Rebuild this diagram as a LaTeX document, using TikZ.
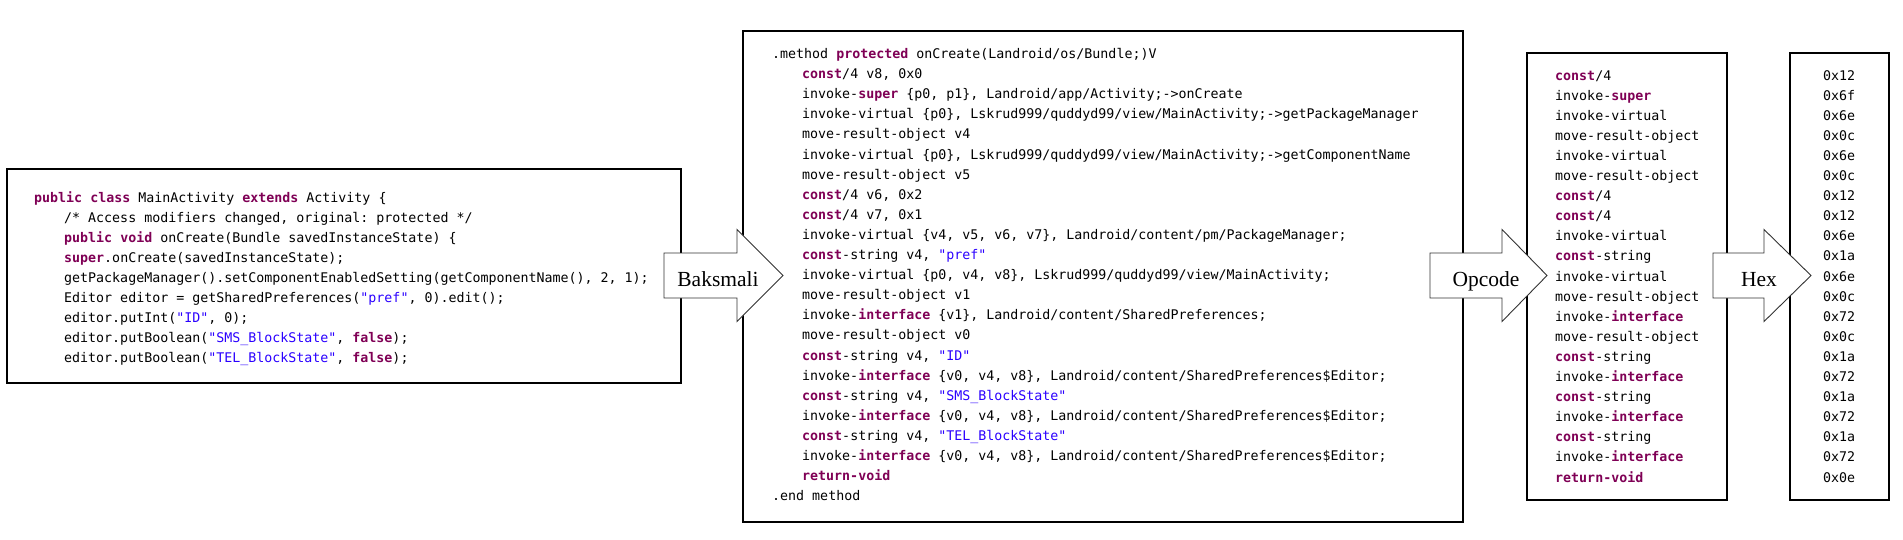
\documentclass[tikz,border=0pt]{standalone}
\usepackage{fontspec}
\setmainfont{Liberation Serif}
\setmonofont{DejaVu Sans Mono}
\definecolor{kwcolor}{HTML}{7F0055}
\definecolor{strcolor}{HTML}{2A00FF}
\newcommand{\kwd}[1]{\textcolor{kwcolor}{\textbf{#1}}}
\newcommand{\strlit}[1]{\textcolor{strcolor}{#1}}

\tikzstyle{codebox}=[draw,line width=1.2pt,rectangle,inner sep=0pt]
\tikzstyle{codeline}=[anchor=base west,inner sep=0pt,font=\fontsize{13.3}{20}\ttfamily]
\tikzstyle{blockarrow}=[draw=black!80,line width=0.9pt,fill=white,line join=miter]
\tikzstyle{steplabel}=[anchor=base,inner sep=0pt,font=\fontsize{21.5}{26}\selectfont]

\begin{document}
\begin{tikzpicture}[x=1pt,y=-1pt]
		\useasboundingbox (0,0) rectangle (1903,539);
		% the four boxes
		\node[codebox,minimum width=674pt,minimum height=214pt] (java) at (344,276) {};
		\node[codebox,minimum width=720pt,minimum height=491pt] (smali) at (1103,276.5) {};
		\node[codebox,minimum width=200pt,minimum height=447pt] (opcode) at (1627,276.5) {};
		\node[codebox,minimum width=99pt,minimum height=447pt] (hex) at (1839.5,276.5) {};
		% block arrows between the boxes
		\foreach \nm/\txt/\xa/\xb/\xc/\xt in {bak/Baksmali/664/737/783/718, opc/Opcode/1430/1502/1547/1486, hx/Hex/1713/1764/1811/1759}
		{
			\draw[blockarrow] (\xa,253) -- (\xb,253) -- (\xb,229.5) -- (\xc,275.5) -- (\xb,321.5) -- (\xb,298) -- (\xa,298) -- cycle;
			\node[steplabel] (\nm) at (\xt,286) {\txt};
		}
		% java source
		\node[codeline] (java-0) at (34,202) {\kwd{public} \kwd{class} MainActivity \kwd{extends} Activity \{};
		\foreach \t [count=\i] in {
			{/* Access modifiers changed, original: protected */},
			{\kwd{public} \kwd{void} onCreate(Bundle savedInstanceState) \{},
			{\kwd{super}.onCreate(savedInstanceState);},
			{getPackageManager().setComponentEnabledSetting(getComponentName(), 2, 1);},
			{Editor editor = getSharedPreferences(\strlit{"pref"}, 0).edit();},
			{editor.putInt(\strlit{"ID"}, 0);},
			{editor.putBoolean(\strlit{"SMS\_BlockState"}, \kwd{false});},
			{editor.putBoolean(\strlit{"TEL\_BlockState"}, \kwd{false});}}
			\node[codeline] (java-\i) at (64,{202+20*\i}) {\t};
		% smali code
		\node[codeline] (smali-0) at (772,58.5) {.method \kwd{protected} onCreate(Landroid/os/Bundle;)V};
		\foreach \t [count=\i] in {
			{\kwd{const}/4 v8, 0x0},
			{invoke-\kwd{super} \{p0, p1\}, Landroid/app/Activity;->onCreate},
			{invoke-virtual \{p0\}, Lskrud999/quddyd99/view/MainActivity;->getPackageManager},
			{move-result-object v4},
			{invoke-virtual \{p0\}, Lskrud999/quddyd99/view/MainActivity;->getComponentName},
			{move-result-object v5},
			{\kwd{const}/4 v6, 0x2},
			{\kwd{const}/4 v7, 0x1},
			{invoke-virtual \{v4, v5, v6, v7\}, Landroid/content/pm/PackageManager;},
			{\kwd{const}-string v4, \strlit{"pref"}},
			{invoke-virtual \{p0, v4, v8\}, Lskrud999/quddyd99/view/MainActivity;},
			{move-result-object v1},
			{invoke-\kwd{interface} \{v1\}, Landroid/content/SharedPreferences;},
			{move-result-object v0},
			{\kwd{const}-string v4, \strlit{"ID"}},
			{invoke-\kwd{interface} \{v0, v4, v8\}, Landroid/content/SharedPreferences\$Editor;},
			{\kwd{const}-string v4, \strlit{"SMS\_BlockState"}},
			{invoke-\kwd{interface} \{v0, v4, v8\}, Landroid/content/SharedPreferences\$Editor;},
			{\kwd{const}-string v4, \strlit{"TEL\_BlockState"}},
			{invoke-\kwd{interface} \{v0, v4, v8\}, Landroid/content/SharedPreferences\$Editor;},
			{\kwd{return-void}}}
			\node[codeline] (smali-\i) at (802,{58.5+20.1*\i}) {\t};
		\node[codeline] (smali-22) at (772,{58.5+20.1*22}) {.end method};
		% opcodes and their hex values
		\foreach \t/\h [count=\i] in {
			{\kwd{const}/4}/0x12, invoke-\kwd{super}/0x6f, invoke-virtual/0x6e, move-result-object/0x0c,
			invoke-virtual/0x6e, move-result-object/0x0c, {\kwd{const}/4}/0x12, {\kwd{const}/4}/0x12,
			invoke-virtual/0x6e, \kwd{const}-string/0x1a, invoke-virtual/0x6e, move-result-object/0x0c,
			invoke-\kwd{interface}/0x72, move-result-object/0x0c, \kwd{const}-string/0x1a,
			invoke-\kwd{interface}/0x72, \kwd{const}-string/0x1a, invoke-\kwd{interface}/0x72,
			\kwd{const}-string/0x1a, invoke-\kwd{interface}/0x72, \kwd{return-void}/0x0e}
		{
			\node[codeline] (op-\i) at (1555,{80+20.1*(\i-1)}) {\t};
			\node[codeline] (hex-\i) at (1823,{80+20.1*(\i-1)}) {\h};
		}
\end{tikzpicture}
\end{document}
